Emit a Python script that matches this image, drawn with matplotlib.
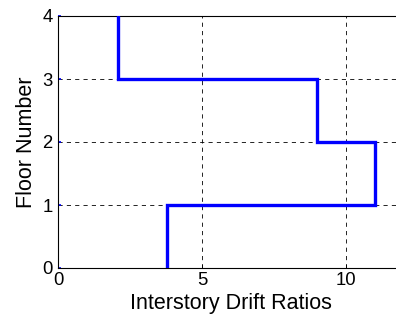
import matplotlib
matplotlib.use("Agg")
import matplotlib.pyplot as plt
import numpy as np

plt.rcParams['font.family'] = ['Liberation Sans', 'DejaVu Sans']

floors = [0, 1, 2, 3, 4]
drift = [3.8, 11.0, 9.0, 2.1]
xticks = [0, 5, 10]
yticks = [0, 1, 2, 3, 4]

fig = plt.figure(figsize=(3.96, 3.22), dpi=100)
ax = fig.add_axes([58/396, 1 - 268/322, (403.6 - 58)/396, (268 - 16)/322])

xs = np.repeat(drift, 2)
ys = np.array([floors[i + k] for i in range(len(drift)) for k in (0, 1)])
ax.plot(xs, ys, color='#0000ff', lw=2.4, solid_joinstyle='miter', zorder=3)

ax.set_xlim(0, 12)
ax.set_ylim(0, 4)
ax.set_xticks(xticks)
ax.set_yticks(yticks)
ax.grid(True, color='black', linestyle=(0, (5, 5)), lw=0.6)
ax.tick_params(direction='in', length=3, labelsize=13.3, width=0.6, pad=3)
ax.tick_params(axis='y', colors='#0000ff', labelcolor='black', length=2, width=1.2, pad=4)
for s in ax.spines.values():
    s.set_linewidth(0.8)
ax.set_xlabel('Interstory Drift Ratios', fontsize=15.5, labelpad=2.5)
ax.set_ylabel('Floor Number', fontsize=15.5, labelpad=4)

fig.savefig('out.png', dpi=100)
